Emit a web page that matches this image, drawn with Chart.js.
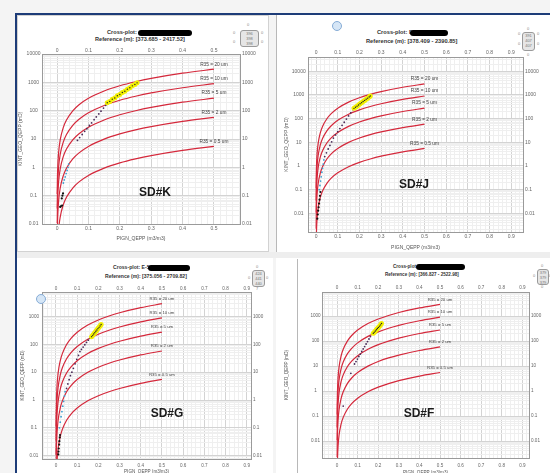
<!DOCTYPE html>
<html>
<head>
<meta charset="utf-8">
<script src="https://cdn.jsdelivr.net/npm/chart.js@4.4.1/dist/chart.umd.min.js"></script>
<style>
body { margin: 0; width: 550px; height: 473px; overflow: hidden; position: relative; background: #f4f4f4; font-family: "Liberation Sans", Arial, sans-serif; }
.abs { position: absolute; }
.panel { position: absolute; background: #fff; }
.ttl { position: absolute; white-space: nowrap; font-weight: bold; color: #333; }
.blob { display: inline-block; background: #000; border-radius: 4px; vertical-align: middle; }
.sd { position: absolute; width: 60px; text-align: center; font-weight: bold; font-size: 12px; line-height: 14px; color: #1a1a1a; }
.wid { position: absolute; border: 1px solid #9a9a9a; border-radius: 3px; background: #e6e6e6; font-size: 4px; line-height: 5px; color: #777; text-align: center; }
.zero { position: absolute; font-size: 4px; color: #888; }
.dot { position: absolute; width: 8px; height: 8px; border-radius: 50%; background: #d6e6f6; border: 1px solid #86acd6; }
canvas { position: absolute; }
</style>
</head>
<body>

<div class="panel" style="left:17px;top:15px;width:250px;height:235px;border:1px solid #d2d2d2;"></div>
<div class="panel" style="left:276px;top:15px;width:274px;height:241px;border-left:1px solid #b8b8b8;"></div>
<div class="abs" style="left:17px;top:252px;width:533px;height:6px;background:#eeeeee;"></div>
<div class="panel" style="left:17px;top:258px;width:256px;height:215px;"></div>
<div class="panel" style="left:276px;top:258px;width:274px;height:215px;"></div>
<div class="abs" style="left:297px;top:259px;width:1px;height:214px;background:#b8b8b8;"></div>
<div class="abs" style="left:15px;top:13px;width:535px;height:2px;background:#1d3c78;"></div>
<div class="abs" style="left:15px;top:13px;width:2px;height:460px;background:#1d3c78;"></div>

<div class="ttl" style="left:107px;top:29px;font-size:5.6px;line-height:6px;">Cross-plot: <span class="blob" style="width:54px;height:6px;"></span></div>
<div class="ttl" style="left:95px;top:36px;font-size:5.6px;line-height:6px;">Reference (m): [373.685 - 2417.52]</div>
<div class="ttl" style="left:377px;top:29px;font-size:5.7px;line-height:6px;">Cross-plot: E<span class="blob" style="width:38px;height:6px;margin-left:-3px;"></span></div>
<div class="ttl" style="left:366px;top:38px;font-size:5.7px;line-height:6px;">Reference (m): [378.409 - 2390.85]</div>
<div class="ttl" style="left:113px;top:264px;font-size:5.1px;line-height:6px;">Cross-plot: E-5<span class="blob" style="width:42px;height:6px;margin-left:-2px;"></span></div>
<div class="ttl" style="left:105px;top:273px;font-size:5.1px;line-height:6px;">Reference (m): [375.056 - 2709.82]</div>
<div class="ttl" style="left:393px;top:264px;font-size:4.6px;line-height:6px;">Cross-plot<span class="blob" style="width:49px;height:6px;"></span></div>
<div class="ttl" style="left:385px;top:272px;font-size:4.6px;line-height:6px;">Reference (m): [366.827 - 2522.98]</div>

<div class="wid" style="left:240px;top:30px;width:17px;height:15px;">396<br>398<br>398</div>
<span class="zero" style="left:247px;top:22px;">0</span><span class="zero" style="left:233px;top:30px;">0</span><span class="zero" style="left:261px;top:30px;">0</span><span class="zero" style="left:233px;top:39px;">0</span><span class="zero" style="left:261px;top:39px;">0</span>
<div class="wid" style="left:522px;top:32px;width:11px;height:17px;">391<br>407<br>407</div>
<span class="zero" style="left:527px;top:26px;">0</span><span class="zero" style="left:518px;top:31px;">0</span><span class="zero" style="left:537px;top:31px;">0</span><span class="zero" style="left:518px;top:41px;">0</span><span class="zero" style="left:537px;top:41px;">0</span><span class="zero" style="left:527px;top:52px;">0</span>
<div class="wid" style="left:252px;top:270px;width:11px;height:15px;">424<br>441<br>440</div>
<span class="zero" style="left:256px;top:264px;">0</span><span class="zero" style="left:248px;top:275px;">0</span><span class="zero" style="left:266px;top:275px;">0</span><span class="zero" style="left:256px;top:286px;">7</span>
<div class="wid" style="left:537px;top:269px;width:10px;height:14px;">379<br>379<br>379</div>
<span class="zero" style="left:541px;top:263px;">0</span><span class="zero" style="left:533px;top:273px;">0</span><span class="zero" style="left:549px;top:273px;">0</span><span class="zero" style="left:541px;top:284px;">0</span>

<canvas id="cK" width="250" height="205" style="left:16px;top:43px;"></canvas>
<canvas id="cJ" width="268" height="208" style="left:278px;top:46px;"></canvas>
<canvas id="cG" width="256" height="197" style="left:17px;top:281px;"></canvas>
<canvas id="cF" width="268" height="197" style="left:282px;top:281px;"></canvas>

<div class="sd" style="left:125px;top:185px;">SD#K</div>
<div class="sd" style="left:384px;top:177px;">SD#J</div>
<div class="sd" style="left:137px;top:406px;">SD#G</div>
<div class="sd" style="left:389px;top:406px;">SD#F</div>

<div class="dot" style="left:332px;top:21px;"></div>
<div class="dot" style="left:36px;top:294px;"></div>

<script>
// R35 curves, K (mD) read along porosity
const curveX = [0.0005, 0.001, 0.002, 0.005, 0.01, 0.02, 0.03, 0.05, 0.07, 0.1, 0.15, 0.2, 0.25, 0.3, 0.4, 0.5];
const r35_20 = [0.114, 0.315, 0.872, 3.35, 9.28, 25.7, 46.6, 98.8, 162, 274, 497, 758, 1051, 1375, 2098, 2912];
const r35_10 = [0.035, 0.097, 0.268, 1.03, 2.86, 7.91, 14.4, 30.4, 49.8, 84.2, 153, 233, 323, 423, 645, 896];
const r35_5 = [0.0108, 0.0298, 0.0826, 0.317, 0.879, 2.43, 4.42, 9.35, 15.3, 25.9, 47.0, 71.7, 99.5, 130, 199, 276];
const r35_2 = [0.00227, 0.00627, 0.0174, 0.0668, 0.185, 0.512, 0.929, 1.97, 3.23, 5.45, 9.89, 15.1, 21.0, 27.4, 41.8, 58.0];
const r35_05 = [0.000215, 0.000594, 0.00164, 0.0063, 0.0175, 0.0485, 0.088, 0.186, 0.306, 0.516, 0.936, 1.43, 1.98, 2.59, 3.96, 5.49];
const r35Labels = ['R35 = 20 um', 'R35 = 10 um', 'R35 = 5 um', 'R35 = 2 um', 'R35 = 0.5 um'];

const yTickValues = [0.01, 0.1, 1, 10, 100, 1000, 10000];
const yTickLabels = ['0.01', '0.1', '1', '10', '100', '1000', '10000'];
const xTickLabels = ['0', '0.1', '0.2', '0.3', '0.4', '0.5', '0.6', '0.7', '0.8', '0.9'];

// SD#K
const kYellowX = [0.160, 0.168, 0.176, 0.184, 0.192, 0.200, 0.208, 0.216, 0.224, 0.232, 0.240, 0.248, 0.255];
const kYellowY = [190, 212, 255, 280, 335, 370, 440, 485, 575, 640, 750, 840, 960];
const kDarkX = [0.065, 0.072, 0.080, 0.088, 0.095, 0.103, 0.110, 0.118, 0.125, 0.133, 0.140, 0.148, 0.155];
const kDarkY = [9, 11.2, 14.4, 18.6, 23, 30, 37, 48, 60, 77, 96, 123, 154];
const kBlueX = [0.020, 0.023, 0.026, 0.029, 0.032, 0.035, 0.037];
const kBlueY = [0.28, 0.36, 0.46, 0.6, 0.78, 1.0, 1.3];
const kBlackX = [0.010, 0.012, 0.016, 0.015, 0.017, 0.019];
const kBlackY = [0.04, 0.042, 0.045, 0.08, 0.1, 0.12];

// SD#J
const jYellowX = [0.175, 0.182, 0.189, 0.196, 0.203, 0.210, 0.217, 0.224, 0.231, 0.238, 0.245, 0.250];
const jYellowY = [270, 300, 335, 375, 420, 470, 525, 585, 655, 730, 815, 900];
const jDarkX = [0.040, 0.048, 0.056, 0.064, 0.072, 0.080, 0.090, 0.100, 0.110, 0.120, 0.130, 0.140, 0.150, 0.160, 0.170];
const jDarkY = [2.5, 3.6, 5.2, 7.4, 10.5, 15, 20.5, 28, 38, 52, 70, 95, 130, 175, 240];
const jBlueX = [0.015, 0.018, 0.021, 0.024, 0.027, 0.030, 0.033, 0.036];
const jBlueY = [0.10, 0.15, 0.23, 0.35, 0.55, 0.8, 1.2, 1.8];
const jBlackX = [0.006, 0.008, 0.010, 0.012, 0.014, 0.016, 0.018, 0.020];
const jBlackY = [0.006, 0.009, 0.013, 0.018, 0.026, 0.038, 0.055, 0.08];

// SD#G
const gYellowX = [0.168, 0.173, 0.178, 0.183, 0.188, 0.193, 0.198, 0.203, 0.208, 0.213];
const gYellowY = [190, 212, 237, 265, 296, 330, 370, 410, 460, 520];
const gDarkX = [0.050, 0.056, 0.062, 0.068, 0.075, 0.082, 0.090, 0.098, 0.106, 0.113, 0.120, 0.128, 0.136, 0.144, 0.152, 0.160, 0.166];
const gDarkY = [2.6, 3.8, 5.4, 7.5, 10, 13.8, 20, 29, 40, 55, 66, 80, 97, 118, 142, 165, 185];
const gBlueX = [0.016, 0.020, 0.024, 0.028, 0.032, 0.036, 0.040, 0.043];
const gBlueY = [0.10, 0.16, 0.25, 0.38, 0.6, 0.9, 1.4, 2.0];
const gBlackX = [0.011, 0.012, 0.013, 0.015, 0.016, 0.018, 0.019];
const gBlackY = [0.011, 0.014, 0.018, 0.025, 0.033, 0.045, 0.055];

// SD#F
const fYellowX = [0.176, 0.181, 0.186, 0.191, 0.196, 0.201, 0.206, 0.211, 0.216];
const fYellowY = [203, 226, 252, 282, 315, 350, 392, 440, 500];
const fDarkX = [0.030, 0.067, 0.085, 0.092, 0.099, 0.106, 0.113, 0.120, 0.127, 0.134, 0.141, 0.148, 0.155, 0.162, 0.170];
const fDarkY = [0.25, 5.1, 12, 15, 19, 24, 30, 38, 48, 60, 76, 95, 120, 150, 190];

const curves = [r35_20, r35_10, r35_5, r35_2, r35_05];

function linTicks(scale) {
    let ticks = [];
    for (let i = -5; i <= 50; i++) {
        let v = i * 0.02;
        if (v >= scale.min - 1e-9 && v <= scale.max + 1e-9) ticks.push({ value: v, major: i % 5 === 0 });
    }
    scale.ticks = ticks;
}

function logTicks(scale) {
    let ticks = [];
    for (let e = -3; e <= 4; e++) {
        for (let m = 1; m < 10; m++) {
            let v = m * Math.pow(10, e);
            if (v >= scale.min && v <= scale.max) ticks.push({ value: v, major: m === 1 });
        }
    }
    scale.ticks = ticks;
}

function xLabel(v) {
    let t = v * 10;
    let r = Math.round(t);
    if (Math.abs(t - r) > 1e-6 || r < 0) return '';
    return xTickLabels[r] || '';
}

function yLabel(v) {
    let e = Math.log10(v);
    let r = Math.round(e);
    if (Math.abs(e - r) > 1e-6) return '';
    let i = yTickValues.findIndex(t => Math.round(Math.log10(t)) === r);
    return i >= 0 ? yTickLabels[i] : '';
}

function gridColor(c) {
    return c.tick && c.tick.major ? '#d3d3d3' : '#efefef';
}

const r35LabelPlugin = {
    id: 'r35labels',
    afterDatasetsDraw(chart, args, opts) {
        const ctx = chart.ctx;
        const x = chart.scales.x, y = chart.scales.y;
        const last = curveX.length - 1;
        ctx.save();
        ctx.font = opts.size + 'px "Liberation Sans", Arial, sans-serif';
        ctx.fillStyle = '#444';
        ctx.textAlign = 'center';
        ctx.textBaseline = 'middle';
        curves.forEach((c, i) => {
            ctx.fillText(r35Labels[i], x.getPixelForValue(curveX[last]), y.getPixelForValue(c[last]) - 5);
        });
        ctx.restore();
    }
};

function pts(xs, ys) {
    return xs.map((x, j) => ({ x: x, y: ys[j] }));
}

function makeChart(id, o) {
    let datasets = [];
    curves.forEach(c => {
        datasets.push({
            data: pts(curveX, c), showLine: true, borderColor: '#d4283b', borderWidth: 1.2,
            pointRadius: 0, cubicInterpolationMode: 'monotone', order: 5
        });
    });
    o.points.forEach(p => {
        datasets.push({
            data: pts(p.x, p.y), pointRadius: p.r, pointBackgroundColor: p.color,
            pointBorderWidth: 0, order: p.order
        });
    });

    let font = { size: o.tick, family: '"Liberation Sans", Arial, sans-serif' };

    let xAxis = (pos) => ({
        type: 'linear', position: pos, min: o.xMin, max: o.xMax,
        afterBuildTicks: linTicks,
        afterFit: s => { s.height = pos === 'top' ? o.hT : o.hB; },
        grid: { drawTicks: false, drawOnChartArea: pos === 'bottom', color: gridColor, lineWidth: 1 },
        border: { color: '#9a9a9a' },
        ticks: { autoSkip: false, maxRotation: 0, padding: pos === 'top' ? o.pT : o.pB, font: font, color: '#666', callback: xLabel },
        title: { display: pos === 'bottom', text: 'PIGN_QEPP (m3/m3)', font: font, color: '#555', padding: { top: 0, bottom: o.tB } }
    });

    let yAxis = (pos) => ({
        type: 'logarithmic', position: pos, min: o.yMin, max: o.yMax,
        afterBuildTicks: logTicks,
        afterFit: s => { s.width = pos === 'left' ? o.wL : o.wR; },
        grid: { drawTicks: false, drawOnChartArea: pos === 'left', color: gridColor, lineWidth: 1 },
        border: { color: '#9a9a9a' },
        ticks: { autoSkip: false, padding: pos === 'left' ? o.pL : 2, crossAlign: pos === 'left' ? 'center' : 'near', font: font, color: '#666', callback: yLabel },
        title: { display: pos === 'left', text: 'KINT_GEO_QEPP (mD)', font: font, color: '#555', padding: { top: o.tL, bottom: 0 } }
    });

    return new Chart(document.getElementById(id).getContext('2d'), {
        type: 'scatter',
        data: { datasets: datasets },
        options: {
            responsive: false,
            animation: false,
            layout: { padding: 0 },
            plugins: { legend: { display: false }, tooltip: { enabled: false }, r35labels: { size: o.lab } },
            scales: { x: xAxis('bottom'), x2: xAxis('top'), y: yAxis('left'), y2: yAxis('right') }
        },
        plugins: [r35LabelPlugin]
    });
}

function seriesSet(yx, yy, dx, dy, bx, by, kx, ky) {
    let s = [
        { x: yx, y: yy, r: 2.5, color: '#f2f000', order: 2 },
        { x: yx, y: yy, r: 0.7, color: '#222', order: 1 },
        { x: dx, y: dy, r: 0.9, color: '#4a2c58', order: 3 }
    ];
    if (bx) s.push({ x: bx, y: by, r: 0.9, color: '#3f9fd0', order: 3 });
    if (kx) s.push({ x: kx, y: ky, r: 1.1, color: '#111', order: 3 });
    return s;
}

makeChart('cK', {
    xMin: -0.048, xMax: 0.583, yMin: 0.01, yMax: 10000,
    wL: 26, wR: 26, hT: 11, hB: 24, pL: 1.5, pT: 0, pB: 2, tB: 6, tL: 2, tick: 5, lab: 4.8,
    points: seriesSet(kYellowX, kYellowY, kDarkX, kDarkY, kBlueX, kBlueY, kBlackX, kBlackY)
});

makeChart('cJ', {
    xMin: -0.037, xMax: 0.954, yMin: 0.00164, yMax: 39700,
    wL: 30, wR: 23, hT: 11, hB: 22, pL: 2.3, pT: 1, pB: 2, tB: 3, tL: 6, tick: 5, lab: 4.8,
    points: seriesSet(jYellowX, jYellowY, jDarkX, jDarkY, jBlueX, jBlueY, jBlackX, jBlackY)
});

makeChart('cG', {
    xMin: -0.066, xMax: 0.92, yMin: 0.00755, yMax: 7670,
    wL: 25, wR: 22, hT: 11, hB: 19, pL: 3, pT: 1, pB: 3.5, tB: 3.5, tL: 3, tick: 4.6, lab: 4.3,
    points: seriesSet(gYellowX, gYellowY, gDarkX, gDarkY, gBlueX, gBlueY, gBlackX, gBlackY)
});

makeChart('cF', {
    xMin: -0.073, xMax: 0.932, yMin: 0.00209, yMax: 9120,
    wL: 40, wR: 21, hT: 11, hB: 20, pL: 1.4, pT: 2, pB: 5, tB: 3, tL: 2.3, tick: 4.6, lab: 4.3,
    points: seriesSet(fYellowX, fYellowY, fDarkX, fDarkY)
});
</script>
</body>
</html>
